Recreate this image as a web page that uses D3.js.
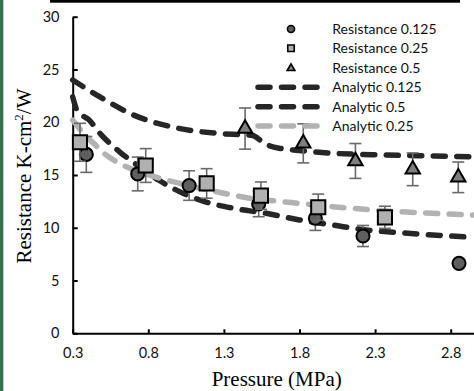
<!DOCTYPE html>
<html>
<head>
<meta charset="utf-8">
<script src="https://cdn.jsdelivr.net/npm/d3@7"></script>
<style>
  html, body { margin: 0; padding: 0; background: #fff; }
  svg { display: block; }
</style>
</head>
<body>
<div id="chart"></div>
<script>
// tick labels
var xTicks = [0.3, 0.8, 1.3, 1.8, 2.3, 2.8];
var yTicks = [0, 5, 10, 15, 20, 25, 30];

// measured points (pressure, resistance, error)
var p125 = [0.39, 0.73, 1.07, 1.53, 1.905, 2.22, 2.855];
var r125 = [16.95, 15.1, 14.0, 12.25, 10.9, 9.22, 6.63];
var e125 = [1.7, 1.6, 1.4, 1.2, 1.15, 1.0, 0.3];

var p25 = [0.348, 0.783, 1.186, 1.545, 1.924, 2.365];
var r25 = [18.1, 15.9, 14.2, 13.04, 11.94, 10.99];
var e25 = [1.8, 1.6, 1.4, 1.3, 1.25, 1.05];

var p5 = [1.44, 1.825, 2.17, 2.549, 2.85];
var r5 = [19.4, 18.0, 16.33, 15.54, 14.78];
var e5 = [1.95, 1.85, 1.65, 1.55, 1.45];

// analytic curves
var a125P = [0.3, 0.33, 0.41, 0.48, 0.61, 0.74, 0.87, 1.01, 1.14, 1.36, 1.58, 1.8, 2.02, 2.24, 2.46, 2.68, 2.95];
var a125R = [22.4, 21.1, 20.2, 18.95, 17.2, 15.8, 14.5, 13.4, 12.63, 11.85, 11.37, 10.74, 10.26, 9.79, 9.54, 9.32, 9.1];

var a5P = [0.3, 0.48, 0.7, 0.99, 1.25, 1.49, 1.55, 1.605, 1.68, 1.76, 2.02, 2.35, 2.69, 2.95];
var a5R = [24.0, 22.4, 20.7, 19.45, 18.95, 18.75, 18.2, 17.75, 17.5, 17.37, 17.06, 16.9, 16.8, 16.73];

var a25P = [0.3, 0.38, 0.46, 0.48, 0.61, 0.77, 0.99, 1.25, 1.47, 1.69, 2.02, 2.35, 2.68, 2.95];
var a25R = [20.2, 18.8, 17.7, 17.4, 16.1, 15.16, 14.27, 13.42, 12.8, 12.47, 12.0, 11.62, 11.37, 11.2];

var W = 474, H = 391;
var svg = d3.select("#chart").append("svg")
  .attr("width", W)
  .attr("height", H);

// slide decoration
svg.append("rect").attr("x", 0).attr("y", 0).attr("width", 3.3).attr("height", H).attr("fill", "#33714a");
svg.append("rect").attr("x", 50).attr("y", 0).attr("width", 410).attr("height", 2.7).attr("fill", "#000");

var x = d3.scaleLinear().domain([0.3, 3.3]).range([72.7, 526.3]);
var y = d3.scaleLinear().domain([0, 30]).range([333.3, 16.7]);

var tickFont = "Lato, 'DejaVu Sans', sans-serif";

// y axis
var yAxis = svg.append("g")
  .attr("transform", "translate(" + x(0.3) + ",0)")
  .call(d3.axisLeft(y).tickValues(yTicks).tickSizeInner(-5).tickSizeOuter(0).tickPadding(13.2));
yAxis.select(".domain").attr("stroke", "#000").attr("stroke-width", 2);
yAxis.selectAll(".tick line").attr("stroke", "#000").attr("stroke-width", 2);
yAxis.selectAll(".tick text")
  .attr("font-family", tickFont).attr("font-size", 14.5).attr("fill", "#111");

// x axis
var xAxis = svg.append("g")
  .attr("transform", "translate(0," + y(0) + ")")
  .call(d3.axisBottom(x).tickValues(xTicks).tickFormat(d3.format(".1f")).tickSizeInner(-4).tickSizeOuter(0).tickPadding(14));
xAxis.select(".domain").attr("stroke", "#000").attr("stroke-width", 2);
xAxis.selectAll(".tick line").attr("stroke", "#000").attr("stroke-width", 2);
xAxis.selectAll(".tick text")
  .attr("font-family", tickFont).attr("font-size", 14.5).attr("fill", "#111");

// axis titles
svg.append("text")
  .attr("x", 276.7).attr("y", 385.5)
  .attr("text-anchor", "middle")
  .attr("font-family", "'Liberation Serif', 'Times New Roman', serif")
  .attr("font-size", 21)
  .text("Pressure (MPa)");

var yt = svg.append("text")
  .attr("transform", "translate(31,176) rotate(-90)")
  .attr("text-anchor", "middle")
  .attr("font-family", "'Liberation Serif', 'Times New Roman', serif")
  .attr("font-size", 21);
yt.append("tspan").text("Resistance K-cm");
yt.append("tspan").attr("font-size", 13).attr("dy", -8).text("2");
yt.append("tspan").attr("dy", 8).text("/W");

// analytic lines
var dark = "#262626", light = "#b2b2b2";
var line = d3.line()
  .x(function (d) { return x(d[0]); })
  .y(function (d) { return y(d[1]); })
  .curve(d3.curveMonotoneX);

function pairs(a, b) { return a.map(function (v, i) { return [v, b[i]]; }); }

var curves = [
  { p: a125P, r: a125R, c: dark },
  { p: a5P, r: a5R, c: dark },
  { p: a25P, r: a25R, c: light }
];
curves.forEach(function (cv) {
  svg.append("path")
    .datum(pairs(cv.p, cv.r))
    .attr("fill", "none")
    .attr("stroke", cv.c)
    .attr("stroke-width", 5.5)
    .attr("stroke-linecap", "round")
    .attr("stroke-dasharray", "12 11.5")
    .attr("d", line);
});

// measured series
var series = [
  { p: p125, r: r125, e: e125, sym: d3.symbolCircle, size: 135, fill: "#5f5f5f" },
  { p: p25, r: r25, e: e25, sym: d3.symbolSquare, size: 200, fill: "#b0b0b0" },
  { p: p5, r: r5, e: e5, sym: d3.symbolTriangle, size: 90, fill: "#7f7f7f" }
];

series.forEach(function (s) {
  var g = svg.append("g");
  var data = s.p.map(function (v, i) { return { p: v, r: s.r[i], e: s.e[i] }; });
  var eb = g.selectAll(".eb").data(data).enter().append("g").attr("stroke", "#6a6a6a").attr("stroke-width", 1.6);
  eb.append("line")
    .attr("x1", function (d) { return x(d.p); }).attr("x2", function (d) { return x(d.p); })
    .attr("y1", function (d) { return y(d.r + d.e); }).attr("y2", function (d) { return y(d.r - d.e); });
  eb.append("line")
    .attr("x1", function (d) { return x(d.p) - 6; }).attr("x2", function (d) { return x(d.p) + 6; })
    .attr("y1", function (d) { return y(d.r + d.e); }).attr("y2", function (d) { return y(d.r + d.e); });
  eb.append("line")
    .attr("x1", function (d) { return x(d.p) - 6; }).attr("x2", function (d) { return x(d.p) + 6; })
    .attr("y1", function (d) { return y(d.r - d.e); }).attr("y2", function (d) { return y(d.r - d.e); });
  g.selectAll(".m").data(data).enter().append("path")
    .attr("transform", function (d) { return "translate(" + x(d.p) + "," + y(d.r) + ")"; })
    .attr("d", d3.symbol().type(s.sym).size(s.size))
    .attr("fill", s.fill)
    .attr("stroke", "#000")
    .attr("stroke-width", 2);
});

// legend
var legendNames = ["Resistance 0.125", "Resistance 0.25", "Resistance 0.5", "Analytic 0.125", "Analytic 0.5", "Analytic 0.25"];
var legendRows = [29, 48.3, 68.3, 87.3, 106.7, 126];
var legendSyms = [
  { sym: d3.symbolCircle, size: 40, fill: "#5f5f5f" },
  { sym: d3.symbolSquare, size: 42, fill: "#b0b0b0" },
  { sym: d3.symbolTriangle, size: 26, fill: "#7f7f7f" }
];
var lg = svg.append("g");
legendNames.forEach(function (name, i) {
  var yy = legendRows[i];
  if (i < 3) {
    lg.append("path")
      .attr("transform", "translate(291," + yy + ")")
      .attr("d", d3.symbol().type(legendSyms[i].sym).size(legendSyms[i].size))
      .attr("fill", legendSyms[i].fill)
      .attr("stroke", "#000")
      .attr("stroke-width", 1.6);
  } else {
    lg.append("line")
      .attr("x1", 258).attr("x2", 327).attr("y1", yy).attr("y2", yy)
      .attr("stroke", i === 5 ? light : dark)
      .attr("stroke-width", 5.5)
      .attr("stroke-linecap", "round")
      .attr("stroke-dasharray", "12 11.5");
  }
  lg.append("text")
    .attr("x", 332.3).attr("y", yy).attr("dy", "0.35em")
    .attr("font-family", tickFont).attr("font-size", 14).attr("fill", "#111")
    .text(name);
});
</script>
</body>
</html>
